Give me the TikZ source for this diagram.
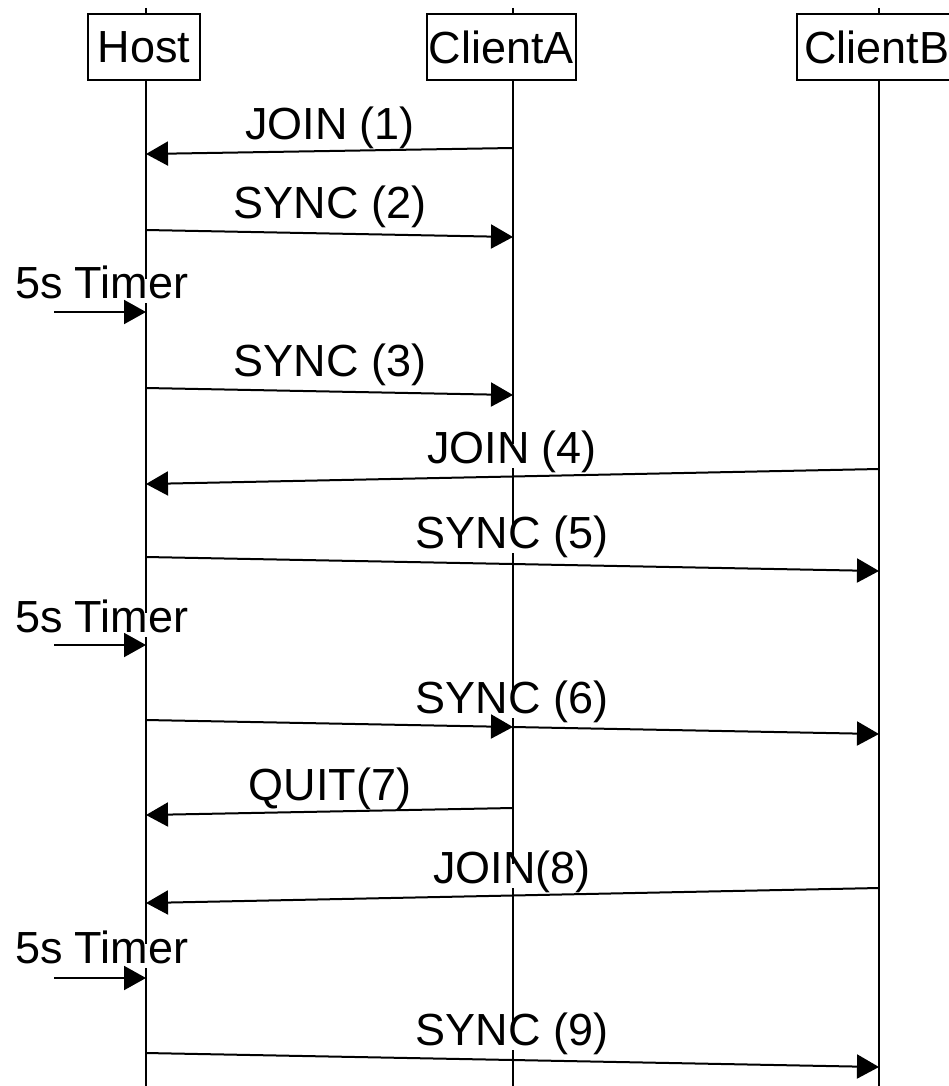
\documentclass[tikz,border=0pt]{standalone}
\usepackage{fontspec}
\setmainfont{Liberation Sans}
\usetikzlibrary{arrows.meta}

\begin{document}
\begin{tikzpicture}[x=0.5pt, y=-0.5pt, line width=1pt,
  font=\fontsize{22.5}{27}\selectfont,
  >={Triangle[length=11pt, width=12pt]}]

  \useasboundingbox (0,0) rectangle (948,1086);

  \tikzset{
    actor/.style={draw, fill=white, inner xsep=0pt, minimum height=33pt,
                  minimum width=#1},
    msg/.style={fill=white, inner xsep=1pt, inner ysep=0.5pt, anchor=base,
                text height=0.9em, text depth=0.22em},
    timer/.style={msg, anchor=base west}
  }

  % lifeline x positions
  \def\hx{146}
  \def\ax{513}
  \def\bx{879}

  % lifelines
  \coordinate (hostTop) at (\hx,8);  \coordinate (hostBot) at (\hx,1086);
  \coordinate (aTop)    at (\ax,8);  \coordinate (aBot)    at (\ax,1086);
  \coordinate (bTop)    at (\bx,8);  \coordinate (bBot)    at (\bx,1086);
  \draw (hostTop) -- (hostBot);
  \draw (aTop) -- (aBot);
  \draw (bTop) -- (bBot);

  % actor boxes
  \node[actor=56pt]   (host)    at (144,47)   {Host};
  \node[actor=74.5pt] (clientA) at (501.5,47) {ClientA};
  \node[actor=80pt]   (clientB) at (877,47)   {ClientB};

  % message labels (white, they hide the lifelines)
  \node[msg]   (l1) at (330,140)  {JOIN (1)};
  \node[msg]   (l2) at (330,218)  {SYNC (2)};
  \node[timer] (t1) at (12,298)   {5s Timer};
  \node[msg]   (l3) at (330,376)  {SYNC (3)};
  \node[msg]   (l4) at (512,463)  {JOIN (4)};
  \node[msg]   (l5) at (512,548)  {SYNC (5)};
  \node[timer] (t2) at (12,632)   {5s Timer};
  \node[msg]   (l6) at (512,713)  {SYNC (6)};
  \node[msg]   (l7) at (330,800)  {QUIT(7)};
  \node[msg]   (l8) at (512,883)  {JOIN(8)};
  \node[timer] (t3) at (12,963)   {5s Timer};
  \node[msg]   (l9) at (512,1045) {SYNC (9)};

  % message end points
  \coordinate (m1s) at (\ax,148);  \coordinate (m1e) at (\hx,154);
  \coordinate (m2s) at (\hx,230);  \coordinate (m2e) at (\ax,237);
  \coordinate (t1s) at (54,312);   \coordinate (t1e) at (\hx,312);
  \coordinate (m3s) at (\hx,388);  \coordinate (m3e) at (\ax,395);
  \coordinate (m4s) at (\bx,469);  \coordinate (m4e) at (\hx,484);
  \coordinate (m5s) at (\hx,557);  \coordinate (m5e) at (\bx,571);
  \coordinate (t2s) at (54,645);   \coordinate (t2e) at (\hx,645);
  \coordinate (m6s) at (\hx,720);  \coordinate (m6a) at (\ax,727);
  \coordinate (m6e) at (\bx,734);
  \coordinate (m7s) at (\ax,808);  \coordinate (m7e) at (\hx,815);
  \coordinate (m8s) at (\bx,888);  \coordinate (m8e) at (\hx,903);
  \coordinate (t3s) at (54,978);   \coordinate (t3e) at (\hx,978);
  \coordinate (m9s) at (\hx,1053); \coordinate (m9e) at (\bx,1067);

  % messages
  \draw[->] (m1s) -- (m1e);
  \draw[->] (m2s) -- (m2e);
  \draw[->] (t1s) -- (t1e);
  \draw[->] (m3s) -- (m3e);
  \draw[->] (m4s) -- (m4e);
  \draw[->] (m5s) -- (m5e);
  \draw[->] (t2s) -- (t2e);
  \draw[->] (m6s) -- (m6a);
  \draw[->] (m6a) -- (m6e);
  \draw[->] (m7s) -- (m7e);
  \draw[->] (m8s) -- (m8e);
  \draw[->] (t3s) -- (t3e);
  \draw[->] (m9s) -- (m9e);

\end{tikzpicture}
\end{document}
